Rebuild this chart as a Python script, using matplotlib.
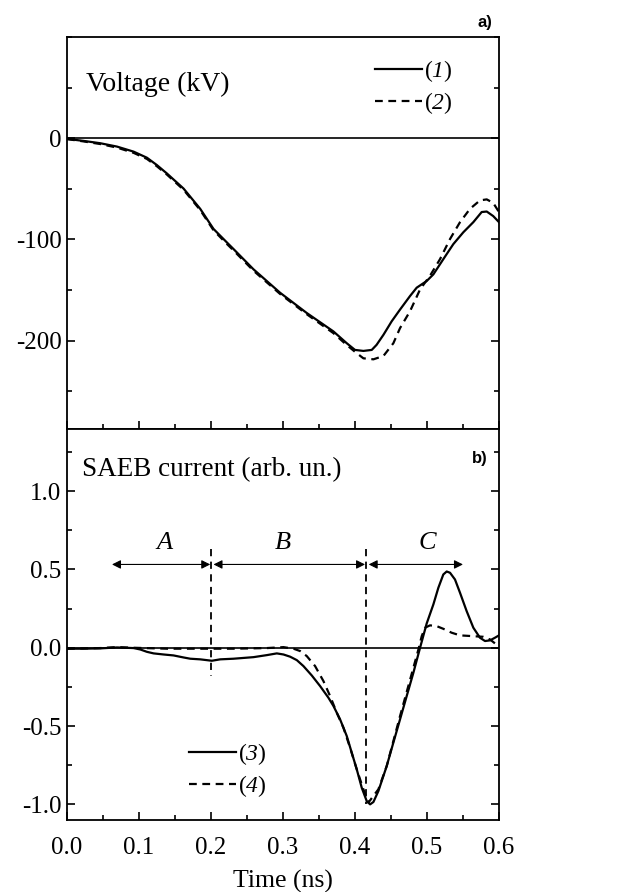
import numpy as np
import matplotlib
matplotlib.use("Agg")
import matplotlib.pyplot as plt
from matplotlib.ticker import MultipleLocator

plt.rcParams['font.family'] = ['Liberation Serif', 'DejaVu Serif']
plt.rcParams['mathtext.fontset'] = 'custom'
plt.rcParams['mathtext.rm'] = 'Liberation Serif'
plt.rcParams['mathtext.it'] = 'Liberation Serif:italic'
# italic digits for the legend numbers (mathit falls back to upright for digits)
plt.rcParams['mathtext.cal'] = 'Liberation Serif:italic'
plt.rcParams['axes.unicode_minus'] = False

# voltage (kV), curve 1 (solid)
t_v1 = [0.0, 0.0231, 0.0463, 0.0694, 0.0925, 0.111, 0.1249, 0.1388, 0.1619, 0.185,
        0.2035, 0.222, 0.2313, 0.259, 0.296, 0.333, 0.370, 0.3886, 0.400, 0.4117,
        0.4233, 0.430, 0.4395, 0.451, 0.4626, 0.4765, 0.4857, 0.4996, 0.5089, 0.5227,
        0.5366, 0.5505, 0.5644, 0.576, 0.583, 0.592, 0.6]
v1 = [-0.7, -2.7, -5.0, -8.3, -13.3, -19.3, -26.6, -34.9, -49.8, -69.8,
      -89.7, -103.0, -109.6, -129.6, -152.8, -172.8, -191.0, -202.7, -209.3, -210.3,
      -209.3, -204.3, -194.4, -181.0, -169.4, -156.0, -147.8, -141.2, -134.6, -119.6,
      -104.7, -93.0, -83.0, -73.0, -72.5, -77.0, -83.0]
# curve 2 (dashed)
t_v2 = [0.0, 0.0231, 0.0463, 0.0694, 0.0925, 0.111, 0.1249, 0.1388, 0.1619, 0.185,
        0.2035, 0.222, 0.2313, 0.259, 0.296, 0.333, 0.370, 0.3886, 0.4025, 0.4117,
        0.4256, 0.4395, 0.4533, 0.4626, 0.4765, 0.4904, 0.5042, 0.5181, 0.532, 0.5459,
        0.5598, 0.5736, 0.583, 0.592, 0.6]
v2 = [-0.9, -3.2, -5.8, -9.3, -14.5, -20.5, -27.8, -36.0, -51.0, -71.0,
      -91.0, -104.5, -111.0, -131.0, -154.0, -174.0, -192.7, -204.5, -212.6, -217.6,
      -218.6, -215.3, -202.7, -187.7, -171.0, -149.5, -136.0, -119.6, -99.7, -83.0,
      -69.8, -61.5, -60.5, -64.0, -73.0]

# SAEB current (arb. un.), curve 3 (solid)
t_i3 = [0.0, 0.0231, 0.0463, 0.0694, 0.0925, 0.1018, 0.111, 0.1203, 0.1342, 0.148,
        0.1619, 0.1712, 0.185, 0.2012, 0.2128, 0.2313, 0.259, 0.2776, 0.2914, 0.3007,
        0.3099, 0.3192, 0.3284, 0.34, 0.3516, 0.3631, 0.3701, 0.3793, 0.3886, 0.3955,
        0.4025, 0.4094, 0.4163, 0.421, 0.4256, 0.4325, 0.4441, 0.4533, 0.4626, 0.4718,
        0.4811, 0.4904, 0.4996, 0.5089, 0.5158, 0.5227, 0.5274, 0.532, 0.5389, 0.5459,
        0.5551, 0.5644, 0.5736, 0.5806, 0.5875, 0.5944, 0.6]
i3 = [-0.006, -0.006, -0.004, 0.002, -0.002, -0.011, -0.026, -0.036, -0.043, -0.049,
      -0.062, -0.07, -0.074, -0.083, -0.074, -0.07, -0.06, -0.047, -0.036, -0.043,
      -0.057, -0.079, -0.117, -0.177, -0.245, -0.319, -0.372, -0.457, -0.564, -0.67,
      -0.777, -0.894, -0.979, -1.0, -0.985, -0.915, -0.755, -0.606, -0.457, -0.309,
      -0.16, 0.0, 0.155, 0.277, 0.383, 0.468, 0.487, 0.479, 0.436, 0.351,
      0.234, 0.128, 0.064, 0.043, 0.047, 0.064, 0.079]
# curve 4 (dashed)
t_i4 = [0.0, 0.0463, 0.0694, 0.0925, 0.1388, 0.185, 0.2313, 0.2776, 0.3007, 0.3146,
        0.3238, 0.333, 0.3446, 0.3562, 0.3655, 0.3747, 0.384, 0.3932, 0.4025, 0.4117,
        0.4186, 0.4325, 0.4441, 0.4626, 0.4811, 0.4881, 0.4927, 0.4973, 0.5042, 0.5135,
        0.5227, 0.5343, 0.5459, 0.5644, 0.578, 0.5875, 0.5944]
i4 = [-0.006, -0.002, 0.004, 0.0, -0.006, -0.006, -0.006, -0.002, 0.004, -0.006,
      -0.021, -0.053, -0.117, -0.213, -0.309, -0.415, -0.511, -0.638, -0.777, -0.904,
      -0.989, -0.904, -0.755, -0.436, -0.128, -0.011, 0.074, 0.128, 0.143, 0.138,
      0.121, 0.096, 0.079, 0.074, 0.07, 0.053, 0.028]

# region markers
bound_x = [0.2, 0.415]
bound_bottom = [-0.18, -1.0]
region_labels = ['A', 'B', 'C']
region_label_x = [0.136, 0.30, 0.501]
region_spans = [(0.0625, 0.199), (0.2035, 0.414), (0.419, 0.55)]

fig = plt.figure(figsize=(6.18, 8.92), dpi=100)
gs = fig.add_gridspec(2, 1, left=0.1084, right=0.8074, top=0.9585, bottom=0.0807, hspace=0)
ax1 = fig.add_subplot(gs[0])
ax2 = fig.add_subplot(gs[1], sharex=ax1)

for ax in (ax1, ax2):
    ax.tick_params(which='both', direction='in', right=True, top=False, width=1.2,
                   labelsize=18)
    ax.tick_params(which='major', length=6)
    ax.tick_params(which='minor', length=3.5)
    ax.tick_params(axis='y', pad=4)
    ax.tick_params(axis='x', pad=12)
    for s in ax.spines.values():
        s.set_linewidth(1.3)
    ax.axhline(0, color='black', lw=1.2)

ax1.plot(t_v1, v1, color='black', lw=1.6, label='($\\mathcal{1}$)')
ax1.plot(t_v2, v2, color='black', lw=1.6, ls=(0, (3.5, 2.5)), label='($\\mathcal{2}$)')
ax1.set_ylim(-287, 100)
ax1.set_yticks([-200, -100, 0])
ax1.yaxis.set_minor_locator(MultipleLocator(50))
ax1.tick_params(labelbottom=False)
ax1.text(0.045, 0.88, 'Voltage (kV)', transform=ax1.transAxes, fontsize=20, va='center')
ax1.legend(loc='upper right', bbox_to_anchor=(0.915, 0.97), frameon=False, fontsize=17,
           handlelength=2.0, handletextpad=0.1, labelspacing=0.25, borderaxespad=0)

ax2.plot(t_i3, i3, color='black', lw=1.6, label='($\\mathcal{3}$)')
ax2.plot(t_i4, i4, color='black', lw=1.6, ls=(0, (3.5, 2.5)), label='($\\mathcal{4}$)')
ax2.set_ylim(-1.1, 1.4)
ax2.set_xlim(0, 0.6)
ax2.xaxis.set_major_locator(MultipleLocator(0.1))
ax2.xaxis.set_minor_locator(MultipleLocator(0.05))
ax2.yaxis.set_major_locator(MultipleLocator(0.5))
ax2.yaxis.set_minor_locator(MultipleLocator(0.25))
ax2.yaxis.set_major_formatter(plt.FuncFormatter(lambda v, p: f'{v:.1f}'))
ax2.xaxis.set_major_formatter(plt.FuncFormatter(lambda v, p: f'{v:.1f}'))
ax2.set_xlabel('Time (ns)', fontsize=18.5, labelpad=8)
ax2.text(0.035, 0.896, 'SAEB current (arb. un.)', transform=ax2.transAxes, fontsize=19.5,
         va='center')
ax2.legend(loc='lower left', bbox_to_anchor=(0.26, 0.03), frameon=False, fontsize=17,
           handlelength=2.0, handletextpad=0.1, labelspacing=0.25, borderaxespad=0)

for bx, bb in zip(bound_x, bound_bottom):
    ax2.plot([bx, bx], [0.63, bb], color='black', lw=1.3, ls=(0, (4, 3)))
for lab, lx, (a, b) in zip(region_labels, region_label_x, region_spans):
    ax2.annotate('', xy=(a, 0.532), xytext=(b, 0.532),
                 arrowprops=dict(arrowstyle='<|-|>', color='black', lw=0.8,
                                 mutation_scale=13, shrinkA=0, shrinkB=0))
    ax2.text(lx, 0.672, lab, fontsize=19, style='italic', ha='center', va='center')

fig.text(0.797, 0.975, 'a)', fontsize=12, fontweight='bold', family='Liberation Sans',
         ha='right', va='center')
ax2.text(0.975, 0.924, 'b)', transform=ax2.transAxes, fontsize=12, fontweight='bold',
         family='Liberation Sans', ha='right', va='center')

fig.savefig('out.png', dpi=100)
